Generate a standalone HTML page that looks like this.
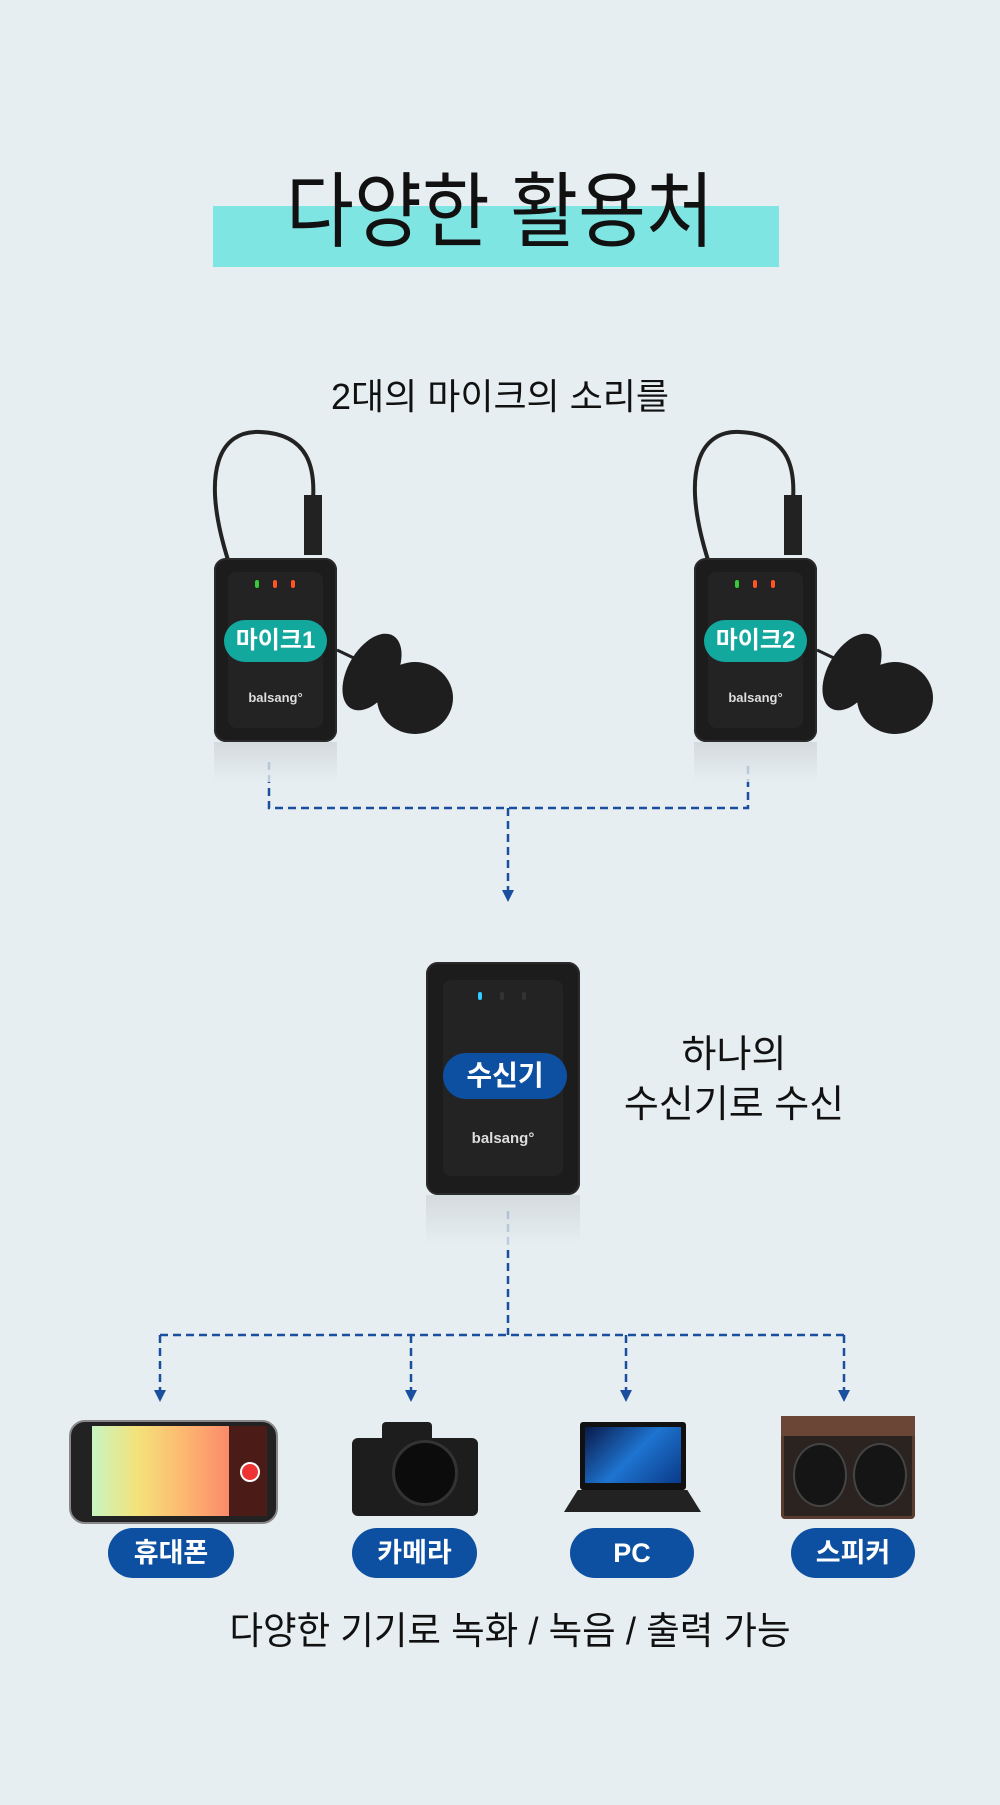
<!DOCTYPE html>
<html><head><meta charset="utf-8"><style>
body{margin:0;width:1000px;height:1805px;background:#e6eef1;position:relative;overflow:hidden;font-family:"Liberation Sans","Noto Sans CJK KR",sans-serif}
.a{position:absolute}
.t{position:absolute;text-align:center;color:#111;white-space:nowrap}
.dev{position:absolute;background:#1c1c1c;border-radius:12px;box-shadow:inset 0 0 0 2px #2a2a2a}
.inner{position:absolute;background:#232323;border-radius:8px}
.pill{position:absolute;color:#fff;font-weight:bold;text-align:center;border-radius:30px}
.brand{position:absolute;color:#ddd;font-weight:bold;font-size:13px;text-align:center;width:100%}
.led{position:absolute;width:4px;height:8px;border-radius:2px}
.refl{position:absolute;background:linear-gradient(#d0d6d9,#e6eef1);opacity:.8}
</style></head><body>
<div class="a" style="left:213px;top:206px;width:566px;height:61px;background:#7fe5e3"></div>
<div class="t" style="left:0;width:1000px;top:168px;font-size:82px;line-height:90px;transform:scaleX(0.9);transform-origin:500px 0">다양한 활용처</div>
<div class="t" style="left:0;width:1000px;top:375px;font-size:36px;line-height:44px">2대의 마이크의 소리를</div>

<svg class="a" style="left:0;top:0" width="1000" height="1805">
<g fill="none" stroke="#222" stroke-width="4">
<path d="M228 560 C200 470 220 430 260 432 C310 434 315 470 313 500"/>
<path d="M708 560 C680 470 700 430 740 432 C790 434 795 470 793 500"/>
</g>
<rect x="304" y="495" width="18" height="60" fill="#222"/>
<rect x="784" y="495" width="18" height="60" fill="#222"/>
<g fill="#1e1e1e">
<path d="M337 650 L400 680" stroke="#222" stroke-width="3"/>
<path d="M817 650 L880 680" stroke="#222" stroke-width="3"/>
<ellipse cx="372" cy="672" rx="24" ry="42" transform="rotate(30 372 672)"/>
<ellipse cx="415" cy="698" rx="38" ry="36"/>
<ellipse cx="852" cy="672" rx="24" ry="42" transform="rotate(30 852 672)"/>
<ellipse cx="895" cy="698" rx="38" ry="36"/>
</g>
<g stroke="#1a4fa0" stroke-width="2.5" fill="none" stroke-dasharray="8,5">
<path d="M269 762 V808 H748 V762"/>
<path d="M508 808 V890"/>
<path d="M508 1211 V1335"/>
<path d="M160 1335 H844"/>
<path d="M160 1335 V1390 M411 1335 V1390 M626 1335 V1390 M844 1335 V1390"/>
</g>
<g fill="#1a4fa0">
<path d="M502 890 L514 890 L508 902Z"/>
<path d="M154 1390 L166 1390 L160 1402Z"/>
<path d="M405 1390 L417 1390 L411 1402Z"/>
<path d="M620 1390 L632 1390 L626 1402Z"/>
<path d="M838 1390 L850 1390 L844 1402Z"/>
</g>
</svg>

<!-- mic 1 -->
<div class="refl" style="left:214px;top:742px;width:123px;height:40px"></div>
<div class="dev" style="left:214px;top:558px;width:123px;height:184px">
<div class="inner" style="left:14px;top:14px;width:95px;height:156px"></div>
<div class="led" style="left:41px;top:22px;background:#3c3"></div>
<div class="led" style="left:59px;top:22px;background:#f52"></div>
<div class="led" style="left:77px;top:22px;background:#f52"></div>
<div class="pill" style="left:10px;top:62px;width:103px;height:42px;line-height:42px;font-size:24px;background:#13a89e">마이크1</div>
<div class="brand" style="top:132px">balsang°</div>
</div>
<!-- mic 2 -->
<div class="refl" style="left:694px;top:742px;width:123px;height:40px"></div>
<div class="dev" style="left:694px;top:558px;width:123px;height:184px">
<div class="inner" style="left:14px;top:14px;width:95px;height:156px"></div>
<div class="led" style="left:41px;top:22px;background:#3c3"></div>
<div class="led" style="left:59px;top:22px;background:#f52"></div>
<div class="led" style="left:77px;top:22px;background:#f52"></div>
<div class="pill" style="left:10px;top:62px;width:103px;height:42px;line-height:42px;font-size:24px;background:#13a89e">마이크2</div>
<div class="brand" style="top:132px">balsang°</div>
</div>
<!-- receiver -->
<div class="refl" style="left:426px;top:1195px;width:154px;height:50px"></div>
<div class="dev" style="left:426px;top:962px;width:154px;height:233px">
<div class="inner" style="left:17px;top:18px;width:120px;height:196px"></div>
<div class="led" style="left:52px;top:30px;background:#3cf"></div>
<div class="led" style="left:74px;top:30px;background:#333"></div>
<div class="led" style="left:96px;top:30px;background:#333"></div>
<div class="pill" style="left:17px;top:91px;width:124px;height:46px;line-height:46px;font-size:28px;background:#0d4fa0">수신기</div>
<div class="brand" style="top:168px;font-size:15px">balsang°</div>
</div>
<div class="t" style="left:600px;width:268px;top:1030px;font-size:38px;line-height:50px">하나의<br>수신기로 수신</div>

<!-- devices -->
<div class="a" style="left:69px;top:1420px;width:205px;height:100px;background:#222;border-radius:16px;border:2px solid #888"></div>
<div class="a" style="left:92px;top:1426px;width:137px;height:90px;background:linear-gradient(90deg,#c8f5c0,#f4e27a,#fdb870,#fa8a6a)"></div>
<div class="a" style="left:229px;top:1426px;width:38px;height:90px;background:#4a1b17"></div>
<div class="a" style="left:240px;top:1462px;width:16px;height:16px;border-radius:50%;background:#e33;border:2px solid #fff"></div>

<div class="a" style="left:352px;top:1438px;width:126px;height:78px;background:#1d1d1d;border-radius:6px"></div>
<div class="a" style="left:382px;top:1422px;width:50px;height:20px;background:#1d1d1d;border-radius:4px"></div>
<div class="a" style="left:392px;top:1440px;width:60px;height:60px;border-radius:50%;background:#0c0c0c;border:3px solid #333"></div>

<div class="a" style="left:580px;top:1422px;width:106px;height:68px;background:#111;border-radius:3px"></div>
<div class="a" style="left:585px;top:1427px;width:96px;height:56px;background:linear-gradient(135deg,#0a1a4a,#1e74d0,#0a3a8a)"></div>
<div class="a" style="left:564px;top:1490px;width:137px;height:22px;background:#222;clip-path:polygon(10% 0,90% 0,100% 100%,0 100%)"></div>

<div class="a" style="left:781px;top:1416px;width:134px;height:103px;background:#2a2320;border:3px solid #5a3b30;border-radius:4px;box-sizing:border-box"></div>
<div class="a" style="left:781px;top:1416px;width:134px;height:20px;background:#6b4636"></div>
<div class="a" style="left:793px;top:1443px;width:50px;height:60px;border-radius:50%;background:#151515;border:2px solid #444"></div>
<div class="a" style="left:853px;top:1443px;width:50px;height:60px;border-radius:50%;background:#151515;border:2px solid #444"></div>

<div class="pill" style="left:108px;top:1528px;width:126px;height:50px;line-height:50px;font-size:27px;background:#0d4fa0">휴대폰</div>
<div class="pill" style="left:352px;top:1528px;width:125px;height:50px;line-height:50px;font-size:27px;background:#0d4fa0">카메라</div>
<div class="pill" style="left:570px;top:1528px;width:124px;height:50px;line-height:50px;font-size:27px;background:#0d4fa0">PC</div>
<div class="pill" style="left:791px;top:1528px;width:124px;height:50px;line-height:50px;font-size:27px;background:#0d4fa0">스피커</div>

<div class="t" style="left:0;width:1020px;top:1608px;font-size:38px;line-height:48px;transform:scaleX(0.96);transform-origin:510px 0">다양한 기기로 녹화 / 녹음 / 출력 가능</div>
</body></html>
